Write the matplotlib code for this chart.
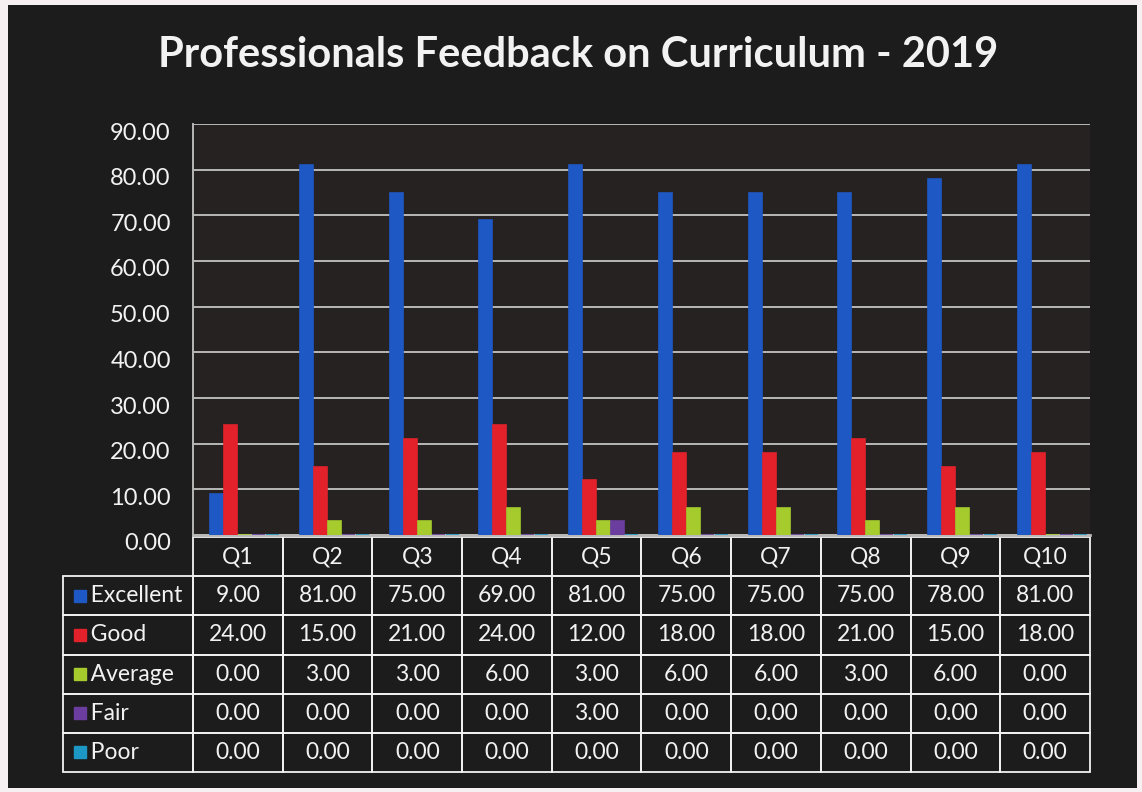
"""
Professionals feedback on curriculum (2019): grouped bars with a data table below.
"""

import numpy as np
import matplotlib
matplotlib.use("Agg")
import matplotlib.pyplot as plt
import matplotlib.transforms as mtransforms
from matplotlib.patches import Rectangle
from matplotlib.table import Table

# Data
questions = ["Q1", "Q2", "Q3", "Q4", "Q5", "Q6", "Q7", "Q8", "Q9", "Q10"]
series_names = ["Excellent", "Good", "Average", "Fair", "Poor"]
excellent = [9, 81, 75, 69, 81, 75, 75, 75, 78, 81]
good = [24, 15, 21, 24, 12, 18, 18, 21, 15, 18]
average = [0, 3, 3, 6, 3, 6, 6, 3, 6, 0]
fair = [0, 0, 0, 0, 3, 0, 0, 0, 0, 0]
poor = [0, 0, 0, 0, 0, 0, 0, 0, 0, 0]
y_ticks = [0, 10, 20, 30, 40, 50, 60, 70, 80, 90]

series_values = [excellent, good, average, fair, poor]
series_colors = ["#1d58c4", "#e3212b", "#a5cc2c", "#6a3d9e", "#1d97c4"]

# Styling
plt.rcParams['font.family'] = ['Lato', 'DejaVu Sans']
TEXT_COLOR = "#f2f2f2"
GRID_COLOR = "#b8b8b8"
CHART_BG = "#1c1c1c"
PLOT_BG = "#272222"

W, H = 1142, 792
fig = plt.figure(figsize=(W / 100, H / 100), dpi=100)
fig.patch.set_facecolor("#f6f0f3")

# Dark chart area on the light scan border
fig.patches.append(Rectangle((8 / W, 1 - 788 / H), (1137 - 8) / W, (788 - 5) / H,
                             transform=fig.transFigure, facecolor=CHART_BG,
                             edgecolor="none", zorder=-5))

# Plot area in pixel terms: x 193..1090, y 124 (90) .. 535 (0)
ax_l, ax_r, ax_t, ax_b = 193, 1090, 124, 535
ax = fig.add_axes([ax_l / W, 1 - ax_b / H, (ax_r - ax_l) / W, (ax_b - ax_t) / H])
ax.set_facecolor(PLOT_BG)

x = np.arange(len(questions))
step = 0.156
bar_w = 0.145
for i, (vals, color) in enumerate(zip(series_values, series_colors)):
    offset = (i - 1.5) * step
    ax.bar(x + offset, vals, width=bar_w, color=color, edgecolor=color,
           linewidth=1.2, zorder=3)

ax.set_xlim(-0.5, len(questions) - 0.5)
ax.set_ylim(0, 90)
ax.set_yticks(y_ticks)
ax.set_yticklabels([f"{v:.2f}" for v in y_ticks])
ax.set_xticks([])
ax.tick_params(axis="y", length=0, pad=16, labelsize=17, labelcolor=TEXT_COLOR)
# labels sit on the front edge of the 3D wall, a little below the back gridlines
shift = mtransforms.ScaledTranslation(0, -7 / 100, fig.dpi_scale_trans)
for lbl in ax.get_yticklabels():
    lbl.set_transform(lbl.get_transform() + shift)
ax.grid(axis="y", color=GRID_COLOR, linewidth=1.4, zorder=1)
for side in ["top", "right"]:
    ax.spines[side].set_visible(False)
ax.spines["left"].set_color(GRID_COLOR)
ax.spines["left"].set_linewidth(1.4)
ax.spines["bottom"].set_color(GRID_COLOR)
ax.spines["bottom"].set_linewidth(2)

# Data table under the plot (label column + one column per question)
tbl_l, tbl_r, tbl_t, tbl_b = 63, 1090, 537, 772
plot_w, plot_h = ax_r - ax_l, ax_b - ax_t
bbox = [(tbl_l - ax_l) / plot_w, (ax_b - tbl_b) / plot_h,
        (tbl_r - tbl_l) / plot_w, (tbl_b - tbl_t) / plot_h]
n_rows = len(series_names) + 1
label_w = 130
col_w = (tbl_r - tbl_l - label_w) / len(questions)
row_h = (tbl_b - tbl_t) / n_rows

table = Table(ax, bbox=bbox)
for c, q in enumerate(questions):
    cell = table.add_cell(0, c + 1, width=col_w, height=row_h, text=q,
                          loc="center", facecolor="none", edgecolor=TEXT_COLOR)
blank = table.add_cell(0, 0, width=label_w, height=row_h, text="",
                       facecolor="none", edgecolor=TEXT_COLOR)
blank.visible_edges = "open"
for r, (name, vals) in enumerate(zip(series_names, series_values), start=1):
    table.add_cell(r, 0, width=label_w, height=row_h, text="   " + name,
                   loc="left", facecolor="none", edgecolor=TEXT_COLOR)
    for c, v in enumerate(vals):
        table.add_cell(r, c + 1, width=col_w, height=row_h, text=f"{v:.2f}",
                       loc="center", facecolor="none", edgecolor=TEXT_COLOR)
table.auto_set_font_size(False)
table.set_fontsize(16.5)
for cell in table.get_celld().values():
    cell.get_text().set_color(TEXT_COLOR)
    cell.set_linewidth(1.3)
    cell.PAD = 0.08
ax.add_table(table)

# Legend keys inside the row label cells
for r, color in enumerate(series_colors, start=1):
    cy = bbox[1] + bbox[3] * (1 - (r + 0.5) / n_rows)
    cx = bbox[0] + 17 / plot_w
    ax.plot([cx], [cy], marker="s", markersize=9, color=color,
            transform=ax.transAxes, clip_on=False, zorder=5)

fig.text(578 / W, 1 - 55 / H, "Professionals Feedback on Curriculum - 2019",
         ha="center", va="center", fontsize=30, fontweight="bold",
         color=TEXT_COLOR)

fig.savefig("out.png", dpi=100, facecolor=fig.get_facecolor())
